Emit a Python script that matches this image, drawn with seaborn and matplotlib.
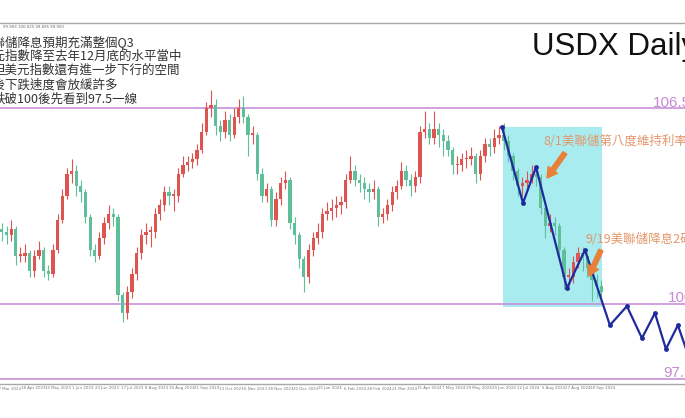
import numpy as np
import pandas as pd
import matplotlib.pyplot as plt
import seaborn as sns

# Candles: one bar every 3 trading days
closes = [102.4, 102.3, 102.5, 101.6, 101.6, 101.7, 101.1, 101.6, 101.8, 101.1,
          101.0, 101.8, 102.8, 103.6, 104.3, 104.4, 103.9, 103.7, 102.9, 101.8,
          101.6, 102.2, 102.7, 103.0, 102.9, 100.3, 99.7, 100.4, 101.0, 101.7,
          102.3, 102.4, 102.4, 103.0, 103.3, 103.7, 103.6, 103.6, 104.3, 104.6,
          104.7, 104.8, 105.1, 105.7, 106.5, 106.6, 105.9, 105.7, 106.1, 105.6,
          106.2, 106.5, 106.2, 105.6, 105.6, 104.3, 103.6, 103.8, 102.8, 103.5,
          104.0, 104.1, 102.7, 102.3, 101.5, 100.9, 101.8, 102.2, 102.4, 103.0,
          103.1, 103.2, 103.3, 103.4, 104.1, 104.4, 104.1, 104.0, 103.8, 103.7,
          103.8, 102.9, 103.0, 103.3, 103.7, 103.9, 104.4, 104.1, 103.9, 104.2,
          105.7, 105.8, 105.5, 105.8, 105.6, 105.4, 105.1, 104.6, 104.6, 104.8,
          104.8, 104.9, 104.3, 104.9, 105.3, 105.2, 105.5, 105.6, 105.4, 104.9,
          104.4, 103.9, 104.0, 104.1, 104.3, 104.2, 103.2, 102.6, 102.7, 102.6,
          101.8, 100.9, 100.9, 101.4, 101.7, 101.6, 101.2, 100.8, 100.6, 100.4]
highs = [102.7, 102.6, 102.8, 102.6, 101.9, 102.0, 101.8, 101.8, 102.1, 101.9,
         101.3, 102.0, 103.0, 103.8, 104.5, 104.8, 104.6, 104.1, 103.8, 103.0,
         102.0, 102.4, 102.9, 103.3, 103.2, 103.0, 100.4, 100.6, 101.2, 101.9,
         102.5, 102.7, 102.6, 103.2, 103.5, 103.9, 103.9, 103.8, 104.5, 104.9,
         104.9, 105.0, 105.3, 106.0, 106.7, 107.1, 106.8, 106.1, 106.4, 106.3,
         106.5, 106.8, 106.9, 106.3, 105.9, 105.7, 104.5, 104.0, 103.9, 103.7,
         104.2, 104.4, 104.2, 102.9, 102.4, 101.6, 102.0, 102.4, 102.7, 103.2,
         103.4, 103.5, 103.6, 103.6, 104.3, 104.9, 104.6, 104.3, 104.2, 104.0,
         104.1, 103.9, 103.2, 103.5, 103.9, 104.1, 104.7, 104.6, 104.3, 104.4,
         105.9, 106.4, 106.0, 106.4, 106.0, 105.8, 105.6, 105.2, 104.9, 105.0,
         105.1, 105.2, 105.0, 105.1, 105.5, 105.5, 105.8, 105.9, 106.0, 105.6,
         105.0, 104.5, 104.2, 104.4, 104.6, 104.5, 104.3, 103.3, 103.0, 102.9,
         102.7, 101.9, 101.2, 101.6, 101.9, 101.9, 101.7, 101.3, 101.0, 100.8]
lows = [102.1, 102.0, 102.1, 101.3, 101.4, 101.4, 100.9, 100.9, 101.5, 100.9,
        100.8, 100.9, 101.7, 102.7, 103.5, 104.0, 103.6, 103.4, 102.7, 101.6,
        101.4, 101.5, 102.0, 102.5, 102.6, 100.1, 99.4, 99.5, 100.2, 100.8,
        101.5, 102.0, 101.9, 102.2, 102.8, 103.1, 103.3, 103.1, 103.4, 104.2,
        104.4, 104.5, 104.6, 105.0, 105.6, 106.2, 105.6, 105.4, 105.5, 105.4,
        105.5, 106.0, 106.0, 104.9, 105.3, 104.1, 103.4, 103.4, 102.6, 102.6,
        103.3, 103.8, 102.5, 102.0, 101.2, 100.4, 100.7, 101.6, 102.0, 102.2,
        102.8, 102.8, 102.9, 103.0, 103.2, 104.0, 103.9, 103.7, 103.5, 103.4,
        103.5, 102.6, 102.7, 102.8, 103.1, 103.5, 103.8, 103.9, 103.6, 103.7,
        104.0, 105.5, 105.3, 105.3, 105.2, 104.9, 104.9, 104.3, 104.3, 104.4,
        104.5, 104.6, 104.0, 104.1, 104.7, 104.9, 105.0, 105.3, 105.1, 104.7,
        104.1, 103.6, 103.6, 103.8, 104.0, 103.9, 103.0, 102.2, 102.4, 102.3,
        101.6, 100.5, 100.6, 100.7, 101.2, 101.1, 100.9, 100.1, 100.2, 100.2]
first_open = 102.5

# x axis: trading-day index, a label every 16 days starting 27 Mar 2023
tick_labels = ['27 Mar 2023', '18 Apr 2023', '10 May 2023', '1 Jun 2023', '23 Jun 2023',
               '17 Jul 2023', '8 Aug 2023', '30 Aug 2023', '21 Sep 2023', '13 Oct 2023',
               '6 Nov 2023', '28 Nov 2023', '20 Dec 2023', '15 Jan 2024', '6 Feb 2024',
               '28 Feb 2024', '21 Mar 2024', '15 Apr 2024', '7 May 2024', '29 May 2024',
               '20 Jun 2024', '12 Jul 2024', '5 Aug 2024', '27 Aug 2024', '18 Sep 2024']

# projected zig-zag path (trading-day index, level)
zz_day = [318.9, 332.5, 340.9, 360.9, 372.5, 388.6, 399.6, 409.3, 417.7, 424.8, 432.5, 440.3]
zz_val = [105.87, 103.35, 104.54, 100.53, 101.79, 99.30, 99.93, 98.87, 99.70, 98.51, 99.30, 98.14]

levels = [106.5, 100.0, 97.5]
level_labels = ['106.5', '100.0', '97.5']

notes = ['美聯儲降息預期充滿整個Q3',
         '美元指數降至去年12月底的水平當中',
         '但美元指數還有進一步下行的空間',
         '之後下跌速度會放緩許多',
         '跌破100後先看到97.5一線']
note_x = [-20, -20, -7.5, -20, -7.5]

sns.set_theme(style='white')
plt.rcParams['font.family'] = ['Noto Sans CJK TC', 'DejaVu Sans']

W, H = 685, 418
fig = plt.figure(figsize=(W / 100, H / 100), dpi=100)
ax = fig.add_axes([0, 34 / H, 1, 361 / H])

df = pd.DataFrame({'close': closes, 'high': highs, 'low': lows})
df['open'] = [first_open] + closes[:-1]
df['day'] = -4 + 3 * np.arange(len(df))
df['up'] = df['close'] >= df['open']
df['color'] = np.where(df['up'], '#dd5450', '#5fbf98')

# highlighted zone
ax.axvspan(319.6, 383.5, ymin=(99.9 - 97.35) / (109.32 - 97.35),
           ymax=(105.87 - 97.35) / (109.32 - 97.35), color='#a8ecf0', zorder=0, lw=0)

for lv in levels:
    ax.axhline(lv, color='#c98fd8', lw=1.2, zorder=1)

ax.vlines(df['day'], df['low'], df['high'], colors=df['color'], lw=0.8, zorder=2)
body_lo = df[['open', 'close']].min(axis=1)
body_h = (df['close'] - df['open']).abs().clip(lower=0.06)
ax.bar(df['day'], body_h, bottom=body_lo, width=2.1, color=df['color'], lw=0, zorder=3)

sns.lineplot(x=zz_day, y=zz_val, sort=False, ax=ax, color='#1f2a9c', lw=1.6,
             marker='o', markersize=3.5, markeredgewidth=0, zorder=5)

arrow_style = 'simple,head_width=0.75,head_length=0.65,tail_width=0.3'
ax.annotate('', xy=(348.0, 104.18), xytext=(359.6, 105.01),
            arrowprops=dict(arrowstyle=arrow_style, color='#e8803a', mutation_scale=11,
                            shrinkA=0, shrinkB=0), zorder=6)
ax.annotate('', xy=(375.1, 100.93), xytext=(382.8, 101.79),
            arrowprops=dict(arrowstyle=arrow_style, color='#e8803a', mutation_scale=11,
                            shrinkA=0, shrinkB=0), zorder=6)

ax.set_xlim(-5.2, 437.1)
ax.set_ylim(97.35, 109.32)
ax.set_xticks(16 * np.arange(len(tick_labels)))
ax.set_xticklabels(tick_labels, fontsize=2.9, color='#777777', family='DejaVu Sans')
ax.tick_params(axis='x', length=0, pad=1.8)
ax.set_yticks([])
for side in ['left', 'right']:
    ax.spines[side].set_visible(False)
for side in ['top', 'bottom']:
    ax.spines[side].set_color('#a8a8a8')
    ax.spines[side].set_linewidth(1.0)


def px(x, y):
    return x / W, 1 - y / H


fig.text(*px(3, 26.5), '99.903 100.025 99.895 99.950', fontsize=2.8, color='#666666',
         va='center', family='DejaVu Sans')
for i, (t, x0) in enumerate(zip(notes, note_x)):
    fig.text(*px(x0, 42 + 14.3 * i), t, fontsize=9, color='#333333', va='center')

fig.text(*px(532, 55), 'USDX Daily', fontsize=22.5, color='#111111', va='baseline',
         family='Liberation Sans')
fig.text(*px(543, 141), '8/1美聯儲第八度維持利率不變', fontsize=9, color='#e3986c', va='center')
fig.text(*px(585, 239), '9/19美聯儲降息2碼', fontsize=9, color='#e3986c', va='center')

for lab, (lx, ly) in zip(level_labels, [(653, 107), (668, 302), (663, 377)]):
    fig.text(*px(lx, ly), lab, fontsize=11, color='#c68ad6', va='baseline',
             family='Liberation Sans')

fig.savefig('out.png', dpi=100)
